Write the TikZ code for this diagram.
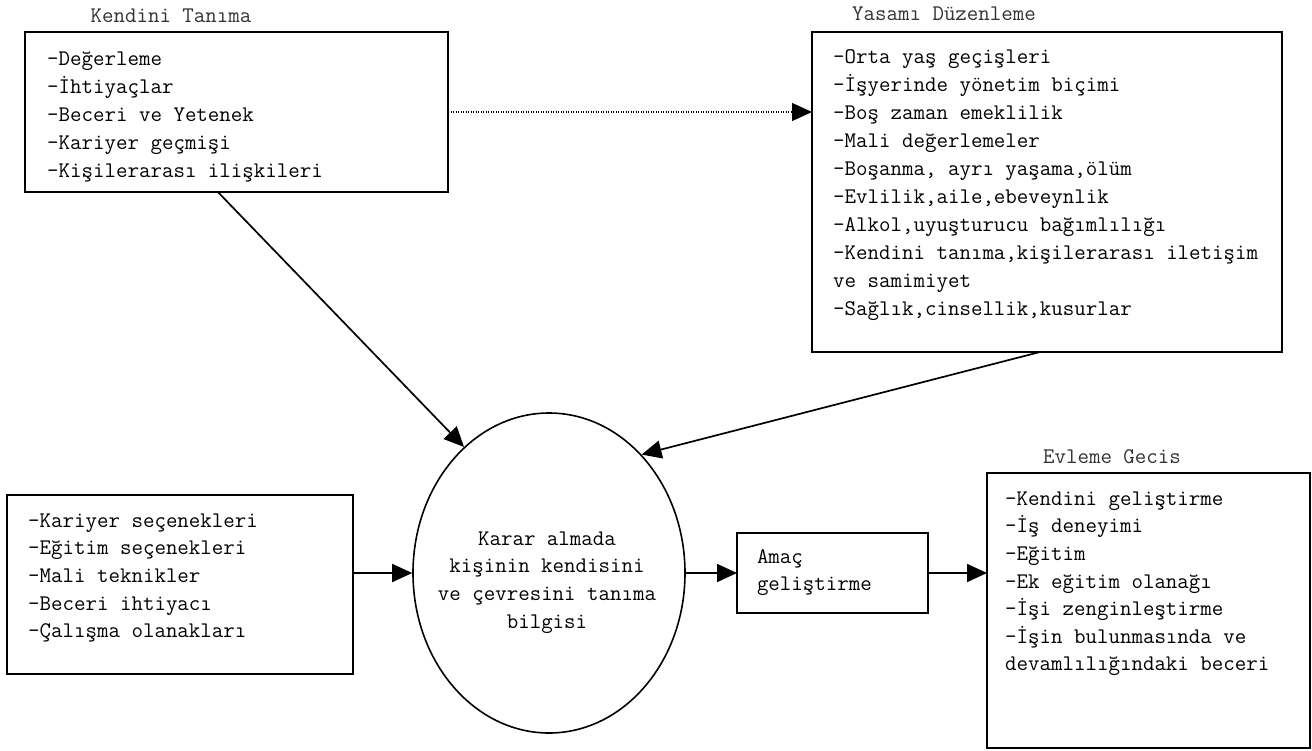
\documentclass[tikz,border=0pt]{standalone}
\usepackage{fontspec}
\usetikzlibrary{shapes.geometric,arrows.meta,calc}

\newcommand{\firstline}{\rule{0pt}{20pt}}
\newcommand{\boxtext}{\ttfamily\addfontfeatures{FakeBold=0.5}}

\tikzset{
  frame/.style={draw, line width=1.9pt, inner sep=0pt, outer sep=0pt, anchor=north west},
  listing/.style={anchor=north west, inner sep=0pt, align=left,
    font=\boxtext\fontsize{22.3pt}{28pt}\selectfont},
  listingtight/.style={listing, font=\boxtext\fontsize{22.3pt}{27.6pt}\selectfont},
  heading/.style={anchor=base, inner sep=0pt, text=black!80,
    font=\ttfamily\fontsize{22.3pt}{28pt}\selectfont},
  flow/.style={line width=1.7pt, -{Triangle[length=20pt,width=18pt]}},
  dotflow/.style={line width=1.1pt, dash pattern=on 1pt off 1.5pt,
    -{Triangle[length=20pt,width=18pt]}}
}

\begin{document}
\begin{tikzpicture}[x=1pt, y=-1pt]
  \fill[white] (0,0) rectangle (1312,750);
  \useasboundingbox (0,0) rectangle (1312,750);

  % self-knowledge block (top left)
  \node[heading] (ktitle) at (171,22) {Kendini Tanıma};
  \node[frame, minimum width=423pt, minimum height=160pt] (kbox) at (25,32) {};
  \node[listing] (klist) at (47,45) {\firstline-Değerleme\\
    -İhtiyaçlar\\
    -Beceri ve Yetenek\\
    -Kariyer geçmişi\\
    -Kişilerarası ilişkileri};

  % life planning block (top right)
  \node[heading] (ytitle) at (944,20) {Yasamı Düzenleme};
  \node[frame, minimum width=470pt, minimum height=320pt] (ybox) at (812,32) {};
  \node[listing] (ylist) at (833,43) {\firstline-Orta yaş geçişleri\\
    -İşyerinde yönetim biçimi\\
    -Boş zaman emeklilik\\
    -Mali değerlemeler\\
    -Boşanma, ayrı yaşama,ölüm\\
    -Evlilik,aile,ebeveynlik\\
    -Alkol,uyuşturucu bağımlılığı\\
    -Kendini tanıma,kişilerarası iletişim\\
    ve samimiyet\\
    -Sağlık,cinsellik,kusurlar};

  % career options block (bottom left)
  \node[frame, minimum width=346pt, minimum height=179pt] (lbox) at (7,495) {};
  \node[listingtight] (llist) at (28,507) {\firstline-Kariyer seçenekleri\\
    -Eğitim seçenekleri\\
    -Mali teknikler\\
    -Beceri ihtiyacı\\
    -Çalışma olanakları};

  % central decision ellipse
  \node[draw, ellipse, line width=1.6pt, minimum width=272pt, minimum height=320pt,
        inner sep=0pt] (ell) at (549,573) {};
  \node[listingtight, anchor=north, align=center] (elltext) at (547,525)
    {\firstline Karar almada\\
     kişinin kendisini\\
     ve çevresini tanıma\\
     bilgisi};

  % goal setting box
  \node[frame, minimum width=191pt, minimum height=80pt, text width=151pt,
        inner xsep=20pt, align=left,
        font=\boxtext\fontsize{22.3pt}{27pt}\selectfont] (abox) at (737,533)
    {Amaç\\geliştirme};

  % transition block (bottom right)
  \node[heading] (etitle) at (1112,463) {Evleme Gecis};
  \node[frame, minimum width=323pt, minimum height=275pt] (ebox) at (987,473) {};
  \node[listingtight] (elist) at (1005,485) {\firstline-Kendini geliştirme\\
    -İş deneyimi\\
    -Eğitim\\
    -Ek eğitim olanağı\\
    -İşi zenginleştirme\\
    -İşin bulunmasında ve\\
    devamlılığındaki beceri};

  % connectors
  \draw[dotflow] (kbox.east) -- (kbox.east -| ybox.west);
  \draw[flow] ($(kbox.south west)!0.456!(kbox.south east)$) -- (ell.124);
  \draw[flow] ($(ybox.south west)!0.485!(ybox.south east)$) -- (ell.52);
  \draw[flow] (ell.west -| lbox.east) -- (ell.west);
  \draw[flow] (ell.east) -- (abox.west);
  \draw[flow] (abox.east) -- (abox.east -| ebox.west);
\end{tikzpicture}
\end{document}
